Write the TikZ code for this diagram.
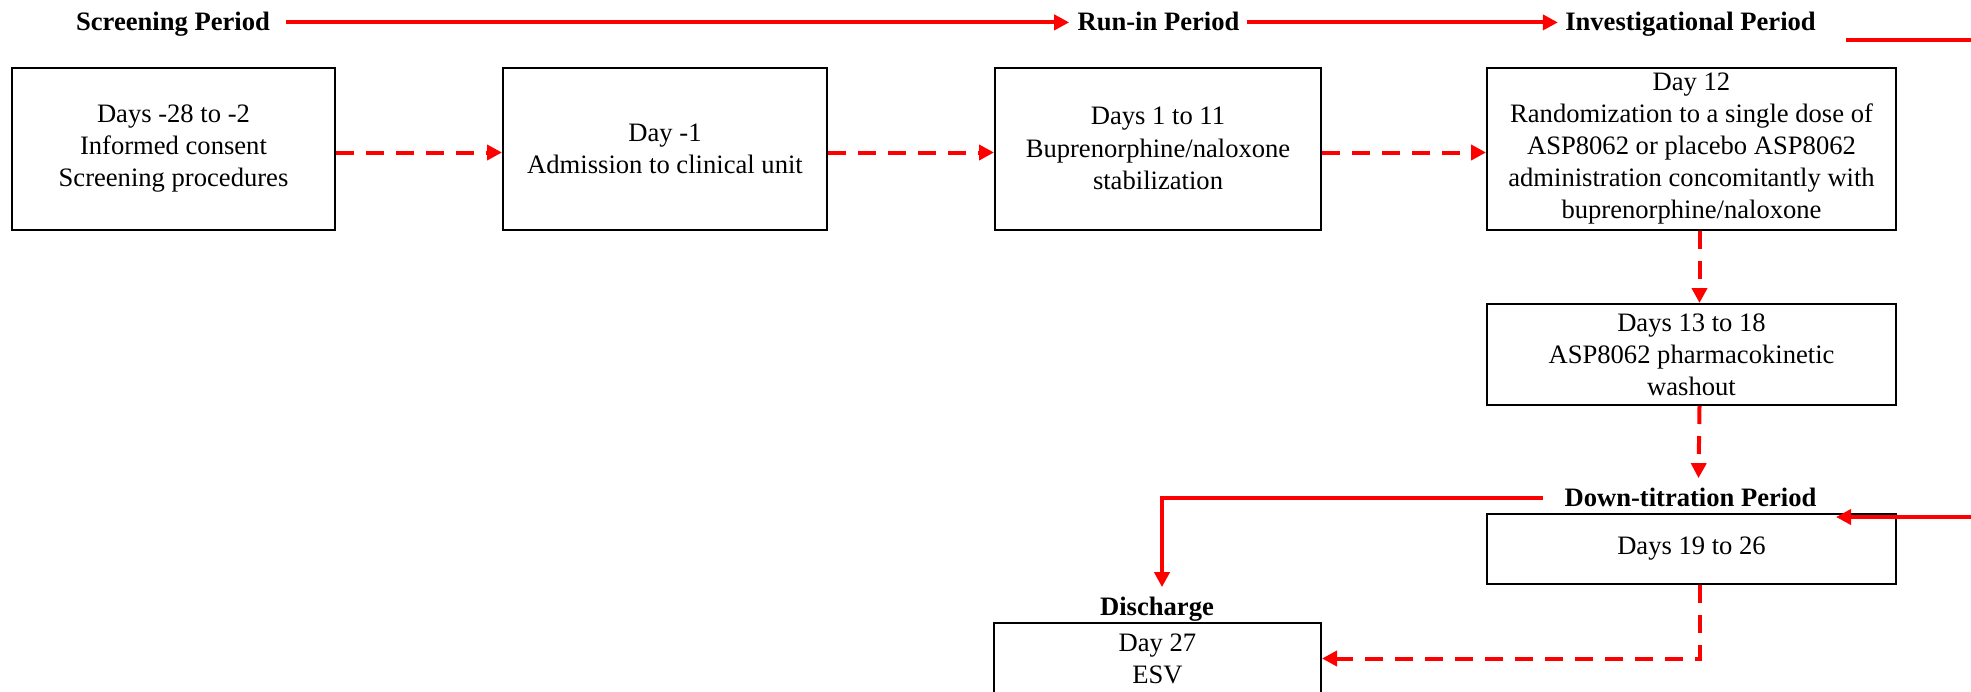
\documentclass[tikz,border=0pt]{standalone}
\usepackage{fontspec}
\setmainfont{Liberation Serif}
\usetikzlibrary{arrows.meta}
\begin{document}
\begin{tikzpicture}[x=0.5pt,y=-0.5pt,
        font=\fontsize{13.3}{16.1}\selectfont,
        stepbox/.style={draw,line width=1pt,align=center,inner sep=0pt,minimum height=81pt},
        period/.style={font=\fontsize{13.3}{16.1}\selectfont\bfseries,inner sep=0pt,anchor=base},
        flow/.style={red,line width=2pt,-{Triangle[length=7.5pt,width=7.5pt]}},
        dflow/.style={red,line width=2pt,dash pattern=on 9pt off 6pt,-{Triangle[length=7.5pt,width=7.5pt]}}]
                \useasboundingbox (0,0) rectangle (1971,691);
                \clip (0,0) rectangle (1971,691);
                % period headings
                \node[period] (hscreen) at (173,30) {Screening Period};
                \node[period] (hrun) at (1158.5,30) {Run-in Period};
                \node[period] (hinv) at (1690.5,30) {Investigational Period};
                \node[period] (hdown) at (1690.5,506) {Down-titration Period};
                \node[period] (hdisch) at (1157,615) {Discharge};
                % boxes
                \node[stepbox,minimum width=161.5pt] (screen) at (173.5,148.5) {Days -28 to -2\\Informed consent\\Screening procedures};
                \node[stepbox,minimum width=162pt] (admit) at (665,148.5) {Day -1\\Admission to clinical unit};
                \node[stepbox,minimum width=163pt] (stab) at (1158,148.5) {Days 1 to 11\\Buprenorphine/naloxone\\stabilization};
                \node[stepbox,minimum width=204.5pt] (rand) at (1691.5,148.5) {Day 12\\Randomization to a single dose of\\ASP8062 or placebo ASP8062\\administration concomitantly with\\buprenorphine/naloxone};
                \node[stepbox,minimum width=204.5pt,minimum height=50.5pt] (wash) at (1691.5,354.5) {Days 13 to 18\\ASP8062 pharmacokinetic\\washout};
                \node[stepbox,minimum width=204.5pt,minimum height=35pt] (down) at (1691.5,549) {Days 19 to 26};
                \node[stepbox,minimum width=163.5pt,minimum height=35.5pt] (disch) at (1157.5,658.5) {Day 27\\ESV};
                % period arrows
                \draw[flow] ([xshift=8pt,yshift=1.5pt]hscreen.mid east) -- ([xshift=-4pt,yshift=1.5pt]hrun.mid west);
                \draw[flow] ([xshift=3.5pt,yshift=1.5pt]hrun.mid east) -- ([xshift=-3.5pt,yshift=1.5pt]hinv.mid west);
                \coordinate (invout) at (1846,40);
                \coordinate (downin) at (1836,517);
                \draw[flow] (invout) -- (2010,40) |- (downin);
                \draw[flow] ([xshift=-10.5pt,yshift=1.5pt]hdown.mid west) -| ([xshift=2.5pt,yshift=4.5pt]hdisch.north);
                % day arrows
                \draw[dflow] ([yshift=-2pt]screen.east) -- ([yshift=-2pt]admit.west);
                \draw[dflow] ([yshift=-2pt]admit.east) -- ([yshift=-2pt]stab.west);
                \draw[dflow] ([yshift=-2pt]stab.east) -- ([yshift=-2pt]rand.west);
                \draw[dflow] ([xshift=4pt]rand.south) -- ([xshift=4pt]wash.north);
                \draw[dflow] ([xshift=4pt]wash.south) -- ([xshift=4pt,yshift=4.5pt]hdown.north);
                \draw[dflow] ([xshift=4pt]down.south) |- (disch.east);
            \end{tikzpicture}
\end{document}
